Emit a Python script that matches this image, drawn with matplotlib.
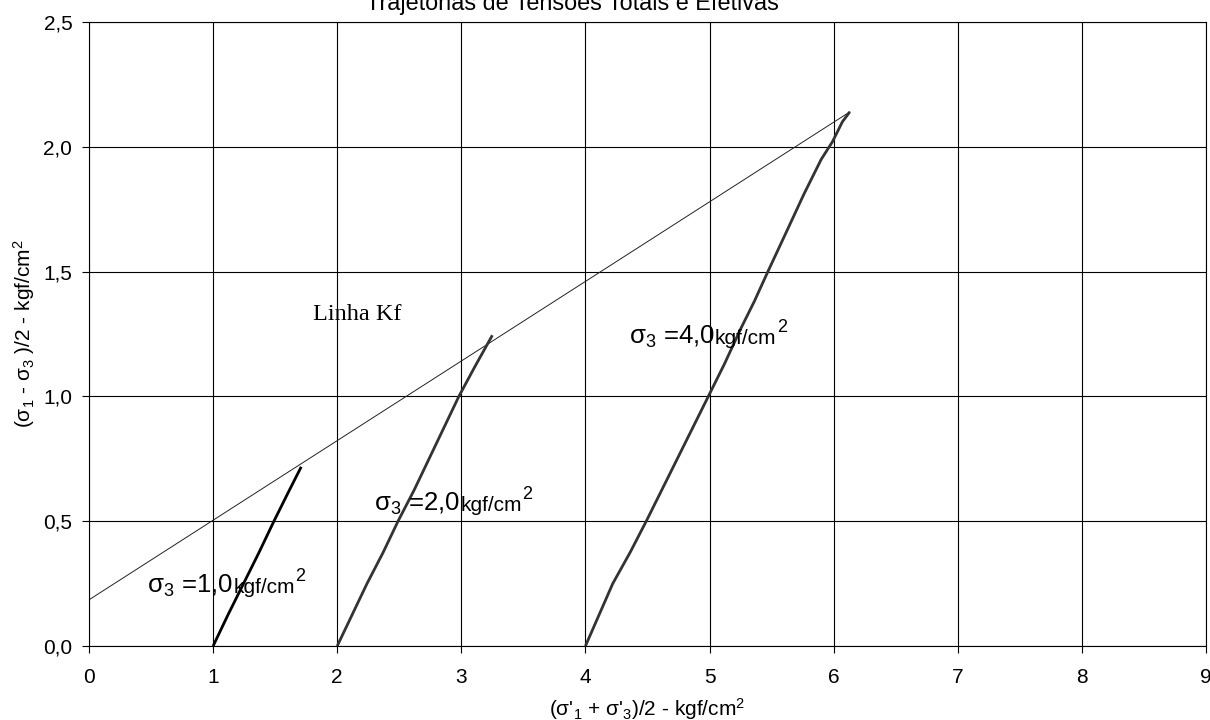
import numpy as np
import matplotlib
matplotlib.use("Agg")
import matplotlib.pyplot as plt

plt.rcParams['font.family'] = ['Liberation Sans', 'DejaVu Sans']
plt.rcParams['mathtext.fontset'] = 'custom'
plt.rcParams['mathtext.rm'] = 'Liberation Sans'
plt.rcParams['mathtext.it'] = 'Liberation Sans'
plt.rcParams['mathtext.bf'] = 'Liberation Sans'

# dados
kf_x = [0.0, 6.13]
kf_y = [0.185, 2.14]

p1_x = [1.0, 1.12, 1.245, 1.37, 1.49, 1.60, 1.71]
p1_y = [0.0, 0.125, 0.25, 0.375, 0.50, 0.61, 0.718]

p2_x = [2.0, 2.12, 2.24, 2.37, 2.49, 2.62, 2.74, 2.86, 2.98, 3.11, 3.25]
p2_y = [0.0, 0.125, 0.25, 0.375, 0.50, 0.625, 0.75, 0.875, 1.00, 1.12, 1.245]

p4_x = [4.0, 4.11, 4.22, 4.36, 4.49, 4.62, 4.75, 4.87, 4.99, 5.12, 5.25, 5.36, 5.47, 5.62, 5.76, 5.90, 5.99, 6.07, 6.13]
p4_y = [0.0, 0.125, 0.25, 0.375, 0.50, 0.63, 0.76, 0.88, 1.00, 1.13, 1.27, 1.38, 1.50, 1.66, 1.81, 1.95, 2.02, 2.10, 2.14]

xticks = [0, 1, 2, 3, 4, 5, 6, 7, 8, 9]
yticks = [0.0, 0.5, 1.0, 1.5, 2.0, 2.5]
ylabels = ['0,0', '0,5', '1,0', '1,5', '2,0', '2,5']

# rotulos das trajetorias: (x, y, sigma3)
rot_x = [0.47, 2.30, 4.35]
rot_y = [0.212, 0.54, 1.21]
rot_txt = ['1,0', '2,0', '4,0']

fig = plt.figure(figsize=(12.1, 7.2), dpi=100)
ax = fig.add_axes([89/1210, 74/720, 1117/1210, 624/720])

ax.plot(kf_x, kf_y, color='#222222', lw=0.7)
ax.plot(p1_x, p1_y, color='black', lw=2.0, solid_capstyle='butt')
ax.plot(p2_x, p2_y, color='#333333', lw=2.0, solid_capstyle='butt')
ax.plot(p4_x, p4_y, color='#333333', lw=2.0, solid_capstyle='butt')

ax.set_xlim(0, 9)
ax.set_ylim(0, 2.5)
ax.set_xticks(xticks)
ax.set_xticklabels([str(v) for v in xticks])
ax.set_yticks(yticks)
ax.set_yticklabels(ylabels)
ax.grid(True, color='black', lw=0.8)
ax.set_axisbelow(True)
ax.tick_params(axis='both', direction='out', length=5, width=0.8, labelsize=15, color='black')
ax.tick_params(axis='x', pad=10.5)
ax.tick_params(axis='y', pad=7)
for s in ax.spines.values():
    s.set_linewidth(0.8)
    s.set_color('black')

ax.set_xlabel("($\\mathregular{\\sigma}$'$_1$ + $\\mathregular{\\sigma}$'$_3$)/2 - kgf/cm$^2$", fontsize=15)
ax.xaxis.set_label_coords(0.5, -0.081)
ax.set_ylabel("($\\mathregular{\\sigma}_1$ - $\\mathregular{\\sigma}_3$ )/2 - kgf/cm$^2$", fontsize=15)
ax.yaxis.set_label_coords(-0.047, 0.5)

fig.text(0.473, 0.986, 'Trajetórias de Tensões Totais e Efetivas', fontsize=16.8,
         ha='center', va='baseline')

ax.text(1.805, 1.306, 'Linha Kf', family='Liberation Serif', fontsize=17.5, va='baseline')

for x, y, t in zip(rot_x, rot_y, rot_txt):
    t1 = ax.text(x, y, 'σ$_3$ =' + t, fontsize=18.5, va='baseline')
    t2 = ax.annotate('kgf/cm', xy=(1.0, y), xycoords=(t1, 'data'),
                     fontsize=15, va='baseline', ha='left')
    ax.annotate('2', xy=(1.0, y), xycoords=(t2, 'data'), xytext=(0.5, 8.5),
                textcoords='offset points', fontsize=13, va='baseline', ha='left')

fig.savefig('out.png', dpi=100)
